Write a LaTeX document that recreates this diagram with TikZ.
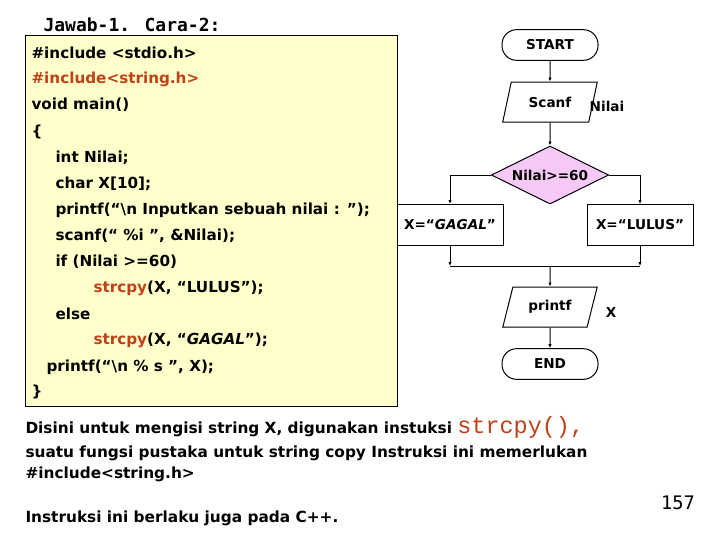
\documentclass[tikz,border=0pt]{standalone}
\usepackage{fontspec}
\setmainfont{DejaVu Sans}
\newfontfamily\titlefont{DejaVu Sans Mono}
\newfontfamily\courierfont{Liberation Mono}
\usetikzlibrary{shapes.geometric,arrows.meta}

\definecolor{codered}{RGB}{192,64,24}
\definecolor{codebg}{RGB}{255,255,204}
\definecolor{decisionpink}{RGB}{246,200,246}

\tikzset{every picture/.style={line width=0.75pt}}
\tikzset{
  codeline/.style={anchor=west,inner sep=0pt,font=\fontsize{11.4}{13}\selectfont\bfseries},
  noteline/.style={anchor=base west,inner sep=0pt,font=\fontsize{11.5}{13}\selectfont\bfseries},
  flowtext/.style={font=\fontsize{10.2}{11}\selectfont\bfseries},
  terminal/.style={flowtext,draw,fill=white,rounded corners=11pt,minimum width=72pt,minimum height=23pt,inner sep=0pt},
  iobox/.style={flowtext,draw,fill=white,trapezium,trapezium left angle=66,trapezium right angle=114,trapezium stretches=true,minimum width=71pt,minimum height=30pt,inner sep=0pt},
  decisionbox/.style={flowtext,draw,fill=decisionpink,diamond,aspect=2,minimum width=88pt,minimum height=43.5pt,inner sep=0pt},
  processbox/.style={flowtext,draw,fill=white,minimum width=79.5pt,minimum height=30.75pt,inner sep=0pt},
  flow/.style={-{Latex[length=3pt,width=2.5pt]}}
}

\begin{document}
\begin{tikzpicture}[x=0.75pt,y=0.75pt,yscale=-1,xscale=1]
\useasboundingbox (0,0) rectangle (720,540);

% Text Node
\draw (43,25) node (title) [anchor=west,inner sep=0pt,font=\titlefont\fontsize{13.5}{15}\selectfont\bfseries] {Jawab-1. Cara-2:};

%Shape: Rectangle [code box]
\draw  [fill=codebg] (25,35) -- (397,35) -- (397,406) -- (25,406) -- cycle ;

% Text Node
\draw (31,53) node (c1) [codeline] {\#include <stdio.h>};
% Text Node
\draw (31,79) node (c2) [codeline,text=codered] {\#include<string.h>};
% Text Node
\draw (31,105) node (c3) [codeline] {void main()};
% Text Node
\draw (31,132) node (c4) [codeline] {\{};
% Text Node
\draw (55,158) node (c5) [codeline] {int Nilai;};
% Text Node
\draw (55,184) node (c6) [codeline] {char X[10];};
% Text Node
\draw (55,210) node (c7) [codeline] {printf(“\textbackslash n Inputkan sebuah nilai : ”);};
% Text Node
\draw (55,236) node (c8) [codeline] {scanf(“ \%i ”, \&Nilai);};
% Text Node
\draw (55,262) node (c9) [codeline] {if (Nilai >=60)};
% Text Node
\draw (93,288) node (c10) [codeline] {\textcolor{codered}{strcpy}(X, “LULUS”);};
% Text Node
\draw (55,314) node (c11) [codeline] {else};
% Text Node
\draw (93,340) node (c12) [codeline] {\textcolor{codered}{strcpy}(X, “\textit{GAGAL}”);};
% Text Node
\draw (46,367) node (c13) [codeline] {printf(“\textbackslash n \% s ”, X);};
% Text Node
\draw (31,392) node (c14) [codeline] {\}};

%Shape: Terminal [start]
\draw (550,45) node (start) [terminal] {START};
%Shape: Parallelogram [scanf]
\draw (550,102) node (scanf) [iobox] {Scanf};
% Text Node
\draw (607,106) node (nilai) [flowtext] {Nilai};
%Shape: Diamond [decision]
\draw (550,175) node (dia) [decisionbox] {Nilai>=60};
%Shape: Rectangle [gagal]
\draw (450,225) node (gagal) [processbox] {X=“\textit{GAGAL}”};
%Shape: Rectangle [lulus]
\draw (640,225) node (lulus) [processbox] {X=“LULUS”};
\coordinate (join) at (550,266);
%Shape: Parallelogram [printf]
\draw (550,307) node (printf) [iobox] {printf};
% Text Node
\draw (611,313) node (xout) [flowtext] {X};
%Shape: Terminal [end]
\draw (550,364) node (end) [terminal] {END};

% Connectors
\draw [flow] (start) -- (scanf);
\draw [flow] (scanf) -- (dia);
\draw [flow] (dia.west) -| (gagal.north);
\draw [flow] (dia.east) -| (lulus.north);
\draw [flow] (gagal.south) -- (gagal.south |- join);
\draw [flow] (lulus.south) -- (lulus.south |- join);
\draw (gagal.south |- join) -- (lulus.south |- join);
\draw [flow] (join) -- (printf);
\draw [flow] (printf) -- (end);

% Text Node
\draw (25,433) node (n1) [noteline] {Disini untuk mengisi string X, digunakan instuksi \textcolor{codered}{\courierfont\mdseries\fontsize{17.6}{18}\selectfont strcpy(),}};
% Text Node
\draw (25,457) node (n2) [noteline] {suatu fungsi pustaka untuk string copy Instruksi ini memerlukan};
% Text Node
\draw (25,478) node (n3) [noteline] {\#include<string.h>};
% Text Node
\draw (25,522) node (n4) [noteline] {Instruksi ini berlaku juga pada C++.};
% Text Node
\draw (678,503) node (page) [font=\titlefont\fontsize{14}{15}\selectfont] {157};

\end{tikzpicture}
\end{document}
